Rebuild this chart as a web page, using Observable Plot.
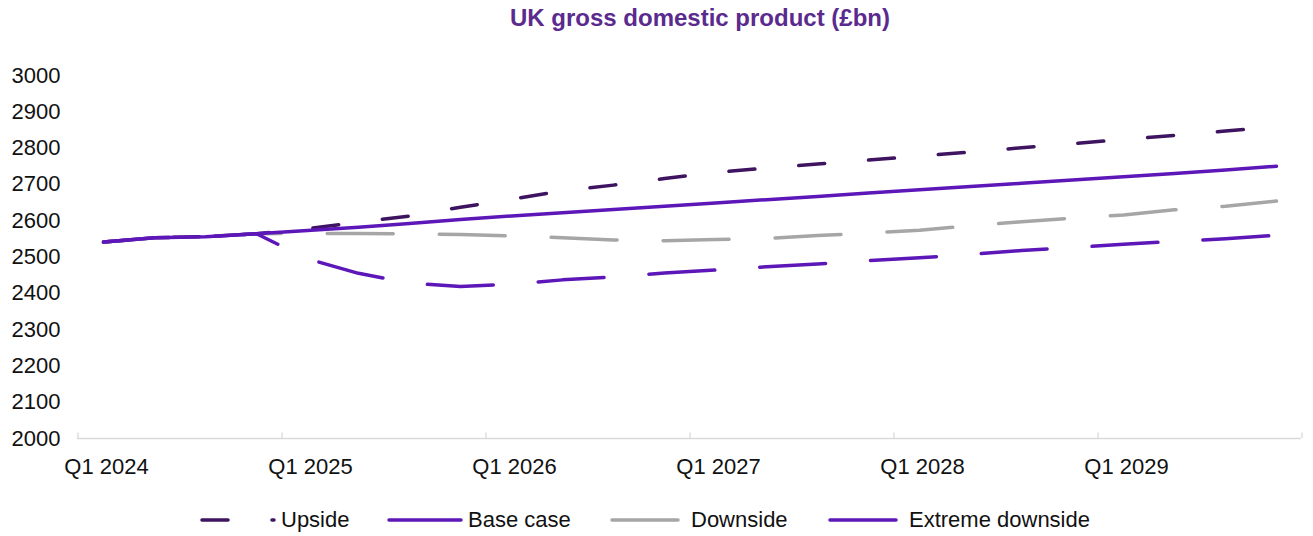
<!DOCTYPE html>
<html>
<head>
<meta charset="utf-8">
<script src="https://cdn.jsdelivr.net/npm/d3@7"></script>
<script src="https://cdn.jsdelivr.net/npm/@observablehq/plot@0.6"></script>
<style>
  body { margin: 0; background: #fff; font-family: "Liberation Sans", Arial, sans-serif; }
  #wrap { width: 1313px; height: 536px; position: relative; overflow: hidden; }
  #title { height: 40px; line-height: 36px; box-sizing: border-box; padding-left: 87px; text-align: center;
           font-size: 24px; font-weight: bold; color: #5b2a8e; }
  #legend { position: relative; height: 46px; }
  .item { position: absolute; top: 19px; height: 22px; display: flex; align-items: center; font-size: 22px; color: #111; }
  .item svg { margin-right: 5px; }
</style>
</head>
<body>
<div id="wrap">
  <div id="title">UK gross domestic product (£bn)</div>
  <div id="chart"></div>
  <div id="legend"></div>
</div>
<script>
const quarters = [
  "Q1 2024","Q2 2024","Q3 2024","Q4 2024",
  "Q1 2025","Q2 2025","Q3 2025","Q4 2025",
  "Q1 2026","Q2 2026","Q3 2026","Q4 2026",
  "Q1 2027","Q2 2027","Q3 2027","Q4 2027",
  "Q1 2028","Q2 2028","Q3 2028","Q4 2028",
  "Q1 2029","Q2 2029","Q3 2029","Q4 2029"
];
const yearTicks = ["Q1 2024","Q1 2025","Q1 2026","Q1 2027","Q1 2028","Q1 2029"];
const yTicks = [2000,2100,2200,2300,2400,2500,2600,2700,2800,2900,3000];

const upside   = [2541,2553,2556,2564,2578,2596,2613,2637,2659,2682,2698,2716,2733,2745,2756,2767,2778,2789,2801,2812,2824,2835,2847,2859];
const baseCase = [2541,2553,2556,2564,2573,2582,2592,2603,2613,2622,2631,2640,2649,2658,2667,2676,2685,2694,2703,2712,2721,2730,2740,2750];
const downside = [2541,2553,2556,2564,2565,2565,2564,2562,2558,2553,2547,2545,2548,2551,2559,2566,2574,2586,2597,2607,2616,2630,2640,2654];
const extreme  = [2541,2553,2556,2564,2495,2455,2428,2419,2425,2437,2445,2456,2464,2473,2481,2490,2498,2507,2518,2526,2535,2543,2550,2560];

const seriesNames = ["Upside","Base case","Downside","Extreme downside"];
const seriesValues = [upside, baseCase, downside, extreme];
const seriesColors = ["#3e1461","#5d17b8","#a6a6a6","#5d17b8"];
const seriesDash = ["26,44", null, "66,46", "66,45"];
const drawOrder = [0, 2, 3, 1];

const tables = seriesValues.map(vals => quarters.map((q, i) => ({q, v: vals[i]})));

const marks = [
  Plot.ruleY([2000], {stroke: "#d9d9d9", strokeWidth: 1.3}),
  Plot.ruleX(yearTicks, {x: d => d, dx: -25.5, y1: 2000, y2: 2015, stroke: "#d9d9d9", strokeWidth: 1.3}),
  Plot.ruleX([quarters[quarters.length - 1]], {x: d => d, dx: 25.5, y1: 2000, y2: 2015, stroke: "#d9d9d9", strokeWidth: 1.3}),
  ...drawOrder.map(k => Plot.lineY(tables[k], {
    x: "q", y: "v", stroke: seriesColors[k], strokeWidth: 3.5,
    strokeDasharray: seriesDash[k] || undefined, strokeLinecap: "round", strokeLinejoin: "round"
  })),
  Plot.axisY({ticks: yTicks, tickSize: 0, tickPadding: 17, tickFormat: d => String(d), label: null}),
  Plot.axisX({ticks: yearTicks, tickSize: 0, tickPadding: 20, dx: 3, label: null})
];

const chart = Plot.plot({
  width: 1313,
  height: 450,
  marginTop: 35,
  marginBottom: 52,
  marginLeft: 77,
  marginRight: 12,
  style: {fontSize: "22px", fontFamily: "'Liberation Sans', Arial, sans-serif", color: "#111", background: "transparent"},
  x: {type: "point", domain: quarters, padding: 0.5},
  y: {domain: [2000, 3000]},
  marks
});
document.getElementById("chart").appendChild(chart);

// legend
const legendLeft = [200, 387, 610, 828];
const legend = document.getElementById("legend");
seriesNames.forEach((name, k) => {
  const item = document.createElement("div");
  item.className = "item";
  item.style.left = legendLeft[k] + "px";
  const ns = "http://www.w3.org/2000/svg";
  const svg = document.createElementNS(ns, "svg");
  svg.setAttribute("width", 76);
  svg.setAttribute("height", 10);
  const line = document.createElementNS(ns, "line");
  line.setAttribute("x1", 2);
  line.setAttribute("x2", 74);
  line.setAttribute("y1", 5);
  line.setAttribute("y2", 5);
  line.setAttribute("stroke", seriesColors[k]);
  line.setAttribute("stroke-width", 3.5);
  line.setAttribute("stroke-linecap", "round");
  if (seriesDash[k]) line.setAttribute("stroke-dasharray", seriesDash[k]);
  svg.appendChild(line);
  item.appendChild(svg);
  const span = document.createElement("span");
  span.textContent = name;
  item.appendChild(span);
  legend.appendChild(item);
});
</script>
</body>
</html>
